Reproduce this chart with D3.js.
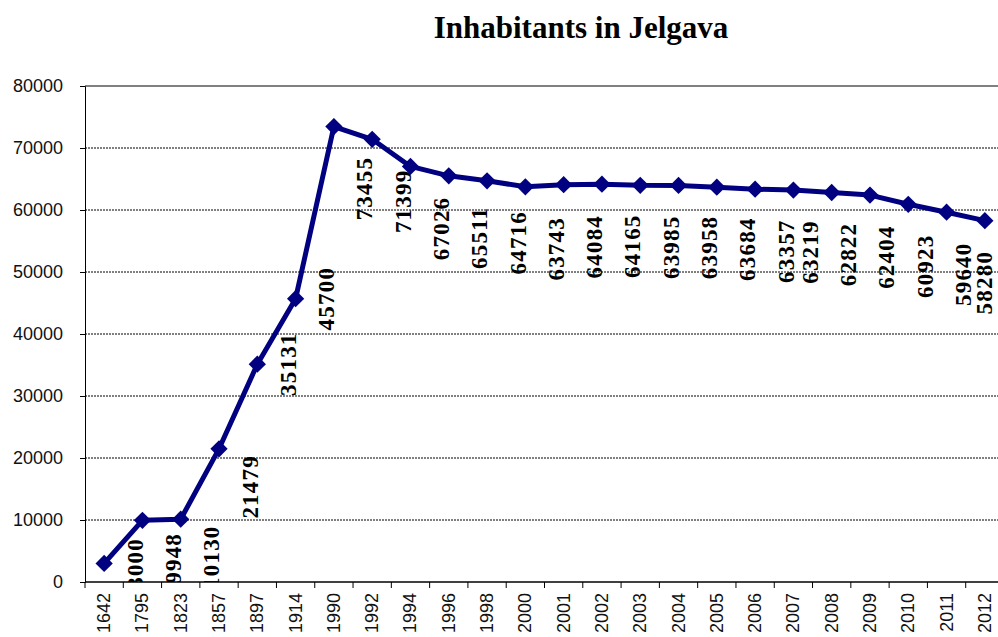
<!DOCTYPE html>
<html>
<head>
<meta charset="utf-8">
<script src="https://cdn.jsdelivr.net/npm/d3@7"></script>
<style>
body { margin: 0; background: #fff; }
</style>
</head>
<body>
<svg id="chart" width="998" height="637"></svg>
<script>
// inhabitants per year
var years = ['1642','1795','1823','1857','1897','1914','1990','1992','1994','1996','1998','2000',
	'2001','2002','2003','2004','2005','2006','2007','2008','2009','2010','2011','2012'];
var people = [3000, 9948, 10130, 21479, 35131, 45700, 73455, 71399, 67026, 65511, 64716, 63743,
	64084, 64165, 63985, 63958, 63684, 63357, 63219, 62822, 62404, 60923, 59640, 58280];
var yTicks = [0, 10000, 20000, 30000, 40000, 50000, 60000, 70000, 80000];

var plot = {left: 85, top: 86, right: 1004, bottom: 582};

var svg = d3.select('#chart');

var x = d3.scaleBand().domain(years).range([plot.left, plot.right]);
var y = d3.scaleLinear().domain([0, 80000]).range([plot.bottom, plot.top]);

var cx = function(d, i){ return x(years[i]) + x.bandwidth() / 2; };

svg.append('defs').append('clipPath').attr('id', 'plotclip')
	.append('rect')
	.attr('x', plot.left).attr('y', plot.top - 20)
	.attr('width', plot.right - plot.left).attr('height', plot.bottom - plot.top + 20);

// title
svg.append('text')
	.attr('x', 581).attr('y', 38)
	.attr('text-anchor', 'middle')
	.style('font-family', '"Liberation Serif", "Times New Roman", serif')
	.style('font-weight', 'bold')
	.style('font-size', '31px')
	.text('Inhabitants in Jelgava');

// grid lines
svg.append('g').selectAll('line')
	.data(yTicks.slice(1, -1))
	.enter().append('line')
	.attr('x1', plot.left).attr('x2', plot.right)
	.attr('y1', function(d){ return y(d); })
	.attr('y2', function(d){ return y(d); })
	.attr('stroke', '#000')
	.attr('stroke-width', 1)
	.attr('stroke-dasharray', '2,1');

// top border of plot area
svg.append('line')
	.attr('x1', plot.left).attr('x2', plot.right)
	.attr('y1', y(80000)).attr('y2', y(80000))
	.attr('stroke', '#808080').attr('stroke-width', 2);

// y axis
var yAxis = svg.append('g')
	.attr('transform', 'translate(' + plot.left + ',0)')
	.call(d3.axisLeft(y).tickValues(yTicks).tickSize(5).tickPadding(17).tickFormat(d3.format('d')));
yAxis.select('.domain').attr('stroke', '#000');
yAxis.selectAll('.tick line').attr('stroke', '#000');
yAxis.selectAll('text')
	.style('font-family', '"Liberation Sans", Arial, sans-serif')
	.style('font-size', '18px')
	.attr('fill', '#111');

// x axis: ticks between the categories
var xAxis = svg.append('g');
xAxis.append('line')
	.attr('x1', plot.left).attr('x2', plot.right)
	.attr('y1', plot.bottom).attr('y2', plot.bottom)
	.attr('stroke', '#000').attr('stroke-width', 1.5);
xAxis.selectAll('.xtick')
	.data(years)
	.enter().append('line')
	.attr('class', 'xtick')
	.attr('x1', function(d){ return x(d); })
	.attr('x2', function(d){ return x(d); })
	.attr('y1', plot.bottom).attr('y2', plot.bottom + 6)
	.attr('stroke', '#000');
xAxis.selectAll('.xlabel')
	.data(years)
	.enter().append('text')
	.attr('class', 'xlabel')
	.attr('transform', function(d){
		return 'translate(' + (x(d) + x.bandwidth() / 2) + ',' + (plot.bottom + 11) + ') rotate(-90)';
	})
	.attr('text-anchor', 'end')
	.attr('dominant-baseline', 'central')
	.style('font-family', '"Liberation Sans", Arial, sans-serif')
	.style('font-size', '18px')
	.attr('fill', '#111')
	.text(function(d){ return d; });

// the line
var line = d3.line()
	.x(function(d, i){ return cx(d, i); })
	.y(function(d){ return y(d); });

svg.append('path')
	.datum(people)
	.attr('d', line)
	.attr('fill', 'none')
	.attr('stroke', '#000080')
	.attr('stroke-width', 5)
	.attr('stroke-linejoin', 'round');

svg.append('g').selectAll('path')
	.data(people)
	.enter().append('path')
	.attr('d', d3.symbol().type(d3.symbolDiamond2).size(190))
	.attr('transform', function(d, i){ return 'translate(' + cx(d, i) + ',' + y(d) + ')'; })
	.attr('fill', '#000080');

// value labels, rotated, sitting right of each point
var labelDx = function(i){
	if (i == years.length - 1) return 0;
	return i >= 18 ? 17 : 31;
};
var labelDy = function(d, i){
	if (i >= 6) return 62;
	return (i > 0 && d < 30000) ? 38 : 0;
};

svg.append('g')
	.attr('clip-path', 'url(#plotclip)')
	.selectAll('text')
	.data(people)
	.enter().append('text')
	.attr('transform', function(d, i){
		return 'translate(' + (cx(d, i) + labelDx(i)) + ',' + (y(d) + labelDy(d, i)) + ') rotate(-90)';
	})
	.attr('text-anchor', 'middle')
	.attr('dominant-baseline', 'central')
	.style('font-family', '"Liberation Serif", "Times New Roman", serif')
	.style('font-weight', 'bold')
	.style('font-size', '23px')
	.style('letter-spacing', '1.2px')
	.text(function(d){ return d; });
</script>
</body>
</html>
